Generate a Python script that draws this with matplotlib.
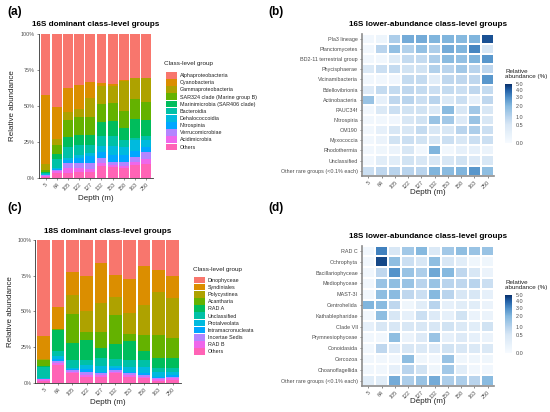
import numpy as np
import matplotlib
matplotlib.use("Agg")
import matplotlib.pyplot as plt
from matplotlib.colors import PowerNorm, LinearSegmentedColormap
from matplotlib.patches import Patch

plt.rcParams['font.family'] = ['Liberation Sans', 'DejaVu Sans']

# ---------------- data ----------------
depths = ["5", "64", "105", "122", "127", "132", "153", "158", "163", "250"]

# Panel (a): 16S dominant class-level groups (% per depth)
groups16 = ["Alphaproteobacteria", "Cyanobacteria", "Gammaproteobacteria",
            "SAR324 clade (Marine group B)", "Marinimicrobia (SAR406 clade)",
            "Bacteroidia", "Dehalococcoidia", "Nitrospinia", "Verrucomicrobiae",
            "Acidimicrobia", "Others"]
alpha16   = [42.2, 50.4, 37.7, 35.1, 33.5, 33.7, 34.9, 31.9, 30.2, 30.2]
cyano16   = [48.5, 22.6, 16.3, 17.0, 11.2, 2.3, 1.2, 0.7, 0.2, 0.3]
gamma16   = [4.0, 4.0, 5.8, 5.6, 13.3, 12.6, 11.6, 20.9, 14.9, 16.7]
sar324_16 = [1.2, 6.5, 12.0, 12.3, 11.9, 12.3, 12.6, 12.1, 13.5, 12.8]
marini16  = [0.8, 3.5, 7.0, 7.5, 7.4, 10.0, 10.7, 8.1, 13.3, 11.2]
bactero16 = [0.8, 6.5, 7.2, 6.5, 5.3, 7.0, 7.0, 5.1, 1.9, 2.8]
dehalo16  = [0.4, 0.7, 1.6, 2.0, 2.3, 4.0, 6.3, 5.3, 7.4, 4.7]
nitro16   = [0.3, 0.5, 1.9, 4.0, 5.1, 4.2, 4.7, 4.7, 4.2, 3.5]
verruco16 = [0.3, 0.8, 4.0, 3.5, 4.2, 3.5, 2.3, 3.0, 3.5, 4.7]
acidi16   = [1.0, 1.5, 3.5, 2.5, 1.6, 2.3, 1.2, 1.2, 1.9, 3.5]
others16  = [0.5, 3.0, 3.0, 4.0, 4.2, 8.1, 7.5, 7.0, 9.0, 9.6]
values16 = [alpha16, cyano16, gamma16, sar324_16, marini16, bactero16,
            dehalo16, nitro16, verruco16, acidi16, others16]

# Panel (c): 18S dominant class-level groups (% per depth)
groups18 = ["Dinophyceae", "Syndiniales", "Polycystinea", "Acantharia", "RAD A",
            "Unclassified", "Protalveolata", "Intramacronucleata",
            "Incertae Sedis", "RAD B", "Others"]
dino18     = [67.5, 46.7, 22.7, 25.2, 15.8, 24.5, 27.2, 17.9, 21.0, 25.0]
synd18     = [16.1, 15.7, 15.7, 24.3, 28.5, 15.2, 24.1, 27.6, 15.7, 15.9]
polyc18    = [0.3, 0.2, 13.3, 15.2, 19.9, 12.9, 14.5, 21.0, 29.9, 28.0]
acan18     = [4.7, 0.5, 20.6, 5.4, 11.7, 20.3, 4.7, 11.0, 16.4, 14.0]
rada18     = [0.3, 15.0, 11.7, 14.0, 6.5, 10.7, 13.6, 6.5, 7.0, 7.0]
unclass18  = [7.7, 3.3, 5.4, 3.5, 5.6, 4.7, 4.7, 4.7, 2.3, 2.3]
protal18   = [0.7, 1.9, 1.2, 2.8, 4.7, 1.6, 3.5, 4.7, 3.5, 2.3]
intram18   = [0.2, 1.2, 0.5, 1.9, 0.5, 1.2, 0.7, 1.2, 1.2, 1.2]
incert18   = [0.2, 1.9, 1.2, 2.3, 1.6, 1.2, 1.6, 1.2, 0.7, 1.2]
radb18     = [0.9, 1.2, 0.7, 1.2, 1.0, 0.7, 1.2, 1.2, 0.9, 1.2]
others18   = [1.4, 12.4, 7.0, 4.2, 4.2, 7.0, 4.2, 3.0, 1.4, 1.9]
values18 = [dino18, synd18, polyc18, acan18, rada18, unclass18, protal18,
            intram18, incert18, radb18, others18]

# Panel (b): 16S lower-abundance groups (relative abundance %)
rows16 = ["Pla3 lineage", "Planctomycetes", "BD2-11 terrestrial group",
          "Phycisphaerae", "Vicinamibacteria", "Bdellovibrionia",
          "Actinobacteria", "PAUC34f", "Nitrospiria", "OM190", "Myxococcia",
          "Rhodothermia", "Unclassified", "Other rare groups (<0.1% each)"]
heat16 = [
    [0.02, 0.05, 1.2, 2.3, 2.3, 2.1, 2.1, 2.0, 2.1, 4.3],
    [0.02, 1.0, 1.7, 1.1, 1.7, 1.2, 2.3, 2.1, 3.2, 0.5],
    [0.02, 0.02, 0.3, 0.8, 0.8, 1.2, 1.9, 1.7, 2.1, 2.8],
    [0.4, 0.7, 0.8, 0.6, 0.6, 1.1, 1.0, 1.4, 1.0, 0.9],
    [0.02, 0.02, 0.03, 0.8, 0.8, 0.25, 0.9, 0.9, 0.9, 2.8],
    [0.35, 0.8, 0.8, 0.9, 0.8, 0.7, 0.8, 0.7, 0.9, 0.8],
    [1.6, 0.15, 0.9, 1.0, 0.7, 1.0, 0.4, 0.7, 0.15, 0.9],
    [0.02, 0.4, 0.7, 0.6, 0.6, 0.4, 1.9, 0.5, 1.4, 0.5],
    [0.02, 0.02, 0.03, 0.5, 0.6, 1.6, 1.4, 0.35, 1.6, 0.5],
    [0.02, 0.15, 0.5, 0.5, 0.8, 0.5, 0.5, 1.0, 1.2, 0.7],
    [0.02, 0.08, 0.6, 0.7, 0.6, 0.5, 0.7, 0.5, 0.7, 0.7],
    [0.02, 0.04, 0.08, 0.5, 0.02, 2.1, 0.02, 0.15, 0.15, 0.08],
    [0.02, 0.25, 0.25, 0.6, 0.5, 0.5, 0.5, 0.6, 0.35, 0.5],
    [0.7, 0.9, 1.0, 1.0, 1.0, 2.1, 1.9, 2.1, 2.8, 1.8],
]

# Panel (d): 18S lower-abundance groups (relative abundance %)
rows18 = ["RAD C", "Ochrophyta", "Bacillariophyceae", "Mediophyceae", "MAST-3I",
          "Centrohelida", "Kathablepharidae", "Clade VII", "Prymnesiophyceae",
          "Conoidasida", "Cercozoa", "Choanoflagellida",
          "Other rare groups (<0.1% each)"]
heat18 = [
    [0.02, 3.3, 0.5, 1.4, 2.0, 0.4, 1.4, 1.8, 1.6, 1.6],
    [0.02, 4.5, 1.8, 0.7, 0.5, 1.8, 0.5, 0.25, 0.04, 0.04],
    [0.02, 0.9, 2.9, 1.6, 1.2, 2.4, 2.0, 0.9, 0.5, 0.08],
    [0.02, 1.6, 1.8, 1.6, 1.0, 1.6, 1.0, 0.9, 1.0, 0.7],
    [0.02, 1.8, 1.9, 0.9, 0.7, 2.0, 1.0, 0.5, 0.5, 0.15],
    [2.1, 1.9, 0.9, 0.04, 0.25, 1.0, 0.15, 0.25, 0.25, 0.08],
    [0.02, 1.8, 0.5, 0.15, 0.7, 0.35, 0.15, 0.6, 0.08, 0.08],
    [0.15, 0.5, 0.5, 0.5, 0.5, 0.5, 0.6, 0.4, 0.25, 0.6],
    [0.02, 0.02, 1.8, 0.08, 0.35, 1.6, 0.15, 0.35, 0.15, 0.08],
    [0.02, 0.9, 0.35, 0.5, 0.4, 0.35, 0.6, 0.5, 0.4, 0.4],
    [0.02, 0.02, 0.02, 1.8, 0.04, 0.02, 1.6, 0.04, 0.04, 0.04],
    [0.02, 0.02, 0.15, 1.0, 0.6, 0.04, 1.4, 0.25, 0.02, 0.02],
    [0.25, 0.25, 2.3, 1.2, 1.6, 2.3, 1.2, 1.2, 1.0, 1.9],
]

cbar_ticks = [0, 0.5, 1, 2, 3, 4, 5]
cbar_labels = ["0.0", "0.5", "1.0", "2.0", "3.0", "4.0", "5.0"]
pct_labels = ["0%", "25%", "50%", "75%", "100%"]

hue11 = ["#F8766D", "#DB8E00", "#AEA200", "#64B200", "#00BD5C", "#00C1A7",
         "#00BADE", "#00A6FF", "#B385FF", "#EF67EB", "#FF63B6"]

heat_cmap = LinearSegmentedColormap.from_list(
    "refblues",
    [(0.0, "#F7FBFF"), (0.316, "#D8E7F5"), (0.447, "#B9D4ED"),
     (0.632, "#86B9DF"), (0.775, "#4F8FC8"), (0.894, "#2362A8"),
     (1.0, "#08306B")])

# ---------------- layout ----------------
W, H = 550, 412
fig = plt.figure(figsize=(W / 100, H / 100), dpi=100)

def add_ax(x0, y0, x1, y1):
    return fig.add_axes([x0 / W, 1 - y1 / H, (x1 - x0) / W, (y1 - y0) / H])

TICK = 3.9
AXT = 5.8
TITLE = 5.9
LEGT = 4.6

def style_axes(ax, spine_color, spine_lw):
    for s in ["top", "right"]:
        ax.spines[s].set_visible(False)
    for s in ["left", "bottom"]:
        ax.spines[s].set_color(spine_color)
        ax.spines[s].set_linewidth(spine_lw)
    ax.tick_params(labelsize=TICK, length=1.6, width=0.4, pad=1.2,
                   colors="#333333", labelcolor="#4d4d4d")

def stacked(ax, groups, values, xlab_y, ylab_x):
    vals = np.array(values, dtype=float)
    frac = vals / vals.sum(axis=0)
    x = np.arange(len(depths))
    bottom = np.zeros(len(depths))
    for i in reversed(range(len(groups))):
        ax.bar(x, frac[i], bottom=bottom, width=0.88, color=hue11[i],
               linewidth=0)
        bottom += frac[i]
    ax.set_xlim(-0.6, len(depths) - 0.4)
    ax.set_ylim(0, 1)
    ax.set_yticks([0, 0.25, 0.5, 0.75, 1.0])
    ax.set_yticklabels(pct_labels)
    ax.set_xticks(x)
    ax.set_xticklabels(depths, rotation=45, ha="right", rotation_mode="anchor")
    style_axes(ax, "#333333", 0.6)
    ax.set_xlabel("Depth (m)", fontsize=AXT, color="#222222")
    ax.set_ylabel("Relative abundance", fontsize=AXT, color="#222222")
    ax.xaxis.set_label_coords(0.5, xlab_y)
    ax.xaxis.label.set_va("center")
    ax.yaxis.set_label_coords(ylab_x, 0.5)
    ax.yaxis.label.set_va("center")

def heat(ax, rows, data, cax, xlab_y):
    arr = np.array(data)
    norm = PowerNorm(gamma=0.5, vmin=0, vmax=5)
    mesh = ax.pcolormesh(np.arange(arr.shape[1] + 1), np.arange(arr.shape[0] + 1),
                         arr, cmap=heat_cmap, norm=norm, edgecolors="white",
                         linewidth=0.35)
    ax.set_xlim(0, arr.shape[1])
    ax.set_ylim(arr.shape[0], 0)
    ax.set_xticks(np.arange(arr.shape[1]) + 0.5)
    ax.set_xticklabels(depths, rotation=45, ha="right", rotation_mode="anchor")
    ax.set_yticks(np.arange(arr.shape[0]) + 0.5)
    ax.set_yticklabels(rows)
    style_axes(ax, "#8c8c8c", 1.2)
    ax.set_xlabel("Depth (m)", fontsize=AXT, color="#222222")
    ax.xaxis.set_label_coords(0.5, xlab_y)
    ax.xaxis.label.set_va("center")
    cb = fig.colorbar(mesh, cax=cax, ticks=cbar_ticks)
    cb.ax.set_yticklabels(cbar_labels)
    cb.outline.set_visible(False)
    cb.ax.tick_params(labelsize=TICK, length=0, pad=2.4, labelcolor="#4d4d4d")
    return cb

def legend_at(groups, x_key, y_top, title_x, title_y):
    fig.text(title_x / W, 1 - title_y / H, "Class-level group", fontsize=LEGT,
             ha="left", va="center", color="#222222")
    handles = [Patch(facecolor=c, edgecolor="none") for c in hue11]
    fig.legend(handles, groups, loc="upper left",
               bbox_to_anchor=(x_key / W, 1 - y_top / H), frameon=False,
               fontsize=TICK, handlelength=2.03, handleheight=1.5,
               labelspacing=0.1, handletextpad=0.55, borderpad=0,
               borderaxespad=0, labelcolor="#222222")

# Panel (a)
ax_a = add_ax(38.8, 34.3, 153.0, 177.7)
stacked(ax_a, groups16, values16, -0.148, -0.228)
fig.text(95.5 / W, 1 - 25 / H, "16S dominant class-level groups",
         fontsize=TITLE, fontweight="bold", ha="center", va="center")
legend_at(groups16, 166, 72, 164, 63)

# Panel (c)
ax_c = add_ax(35.2, 240.0, 181.4, 382.7)
stacked(ax_c, groups18, values18, -0.14, -0.172)
fig.text(108 / W, 1 - 231.7 / H, "18S dominant class-level groups",
         fontsize=TITLE, fontweight="bold", ha="center", va="center")
legend_at(groups18, 194, 276.7, 192.7, 270)

# Panel (b)
ax_b = add_ax(361.7, 33.9, 494.3, 175.7)
cax_b = add_ax(505, 84, 512.3, 143.3)
heat(ax_b, rows16, heat16, cax_b, -0.12)
fig.text(428 / W, 1 - 25 / H, "16S lower-abundance class-level groups",
         fontsize=TITLE, fontweight="bold", ha="center", va="center")
fig.text(505 / W, 1 - 74 / H, "Relative\nabundance (%)", fontsize=4.5,
         ha="left", va="center", linespacing=1.0, color="#222222")

# Panel (d)
ax_d = add_ax(361.7, 245.6, 494.3, 386.0)
cax_d = add_ax(505, 295, 512.3, 353.3)
heat(ax_d, rows18, heat18, cax_d, -0.113)
fig.text(428 / W, 1 - 236 / H, "18S lower-abundance class-level groups",
         fontsize=TITLE, fontweight="bold", ha="center", va="center")
fig.text(505 / W, 1 - 285 / H, "Relative\nabundance (%)", fontsize=4.5,
         ha="left", va="center", linespacing=1.0, color="#222222")

# Panel letters
for lab, x, y in [("(a)", 7, 12), ("(b)", 268, 12), ("(c)", 7, 208), ("(d)", 268, 208)]:
    fig.text(x / W, 1 - y / H, lab, fontsize=8.5, fontweight="bold",
             ha="left", va="center")

fig.savefig("out.png", dpi=100)
